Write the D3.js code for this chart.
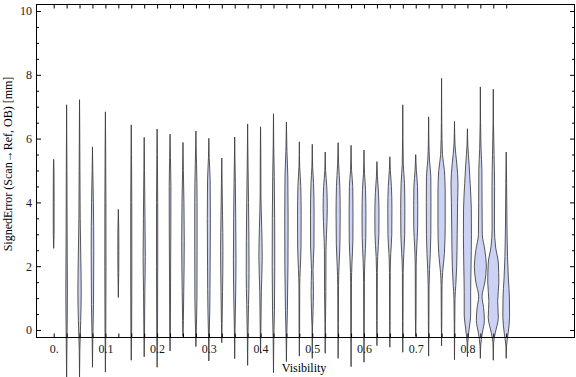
<!DOCTYPE html>
<meta charset="utf-8">
<script src="https://d3js.org/d3.v7.min.js"></script>
<title>SignedError by Visibility</title>

<div id="my_dataviz"></div>

<style>
    body { margin: 0; background: white; }
    #my_dataviz text { font-family: "Liberation Serif", "Times New Roman", serif; }
</style>

<script>
    // violin categories (visibility bins)
    const visibility = [0, 0.025, 0.05, 0.075, 0.1, 0.125, 0.15, 0.175, 0.2, 0.225, 0.25, 0.275,
        0.3, 0.325, 0.35, 0.375, 0.4, 0.425, 0.45, 0.475, 0.5, 0.525, 0.55, 0.575,
        0.6, 0.625, 0.65, 0.675, 0.7, 0.725, 0.75, 0.775, 0.8, 0.825, 0.85, 0.875];

    // top and bottom of each violin [mm]
    const errMax = [5.35, 7.06, 7.22, 5.74, 6.84, 3.78, 6.43, 6.04, 6.30, 6.14, 5.88, 6.24,
        6.01, 5.39, 6.05, 6.46, 6.37, 6.78, 6.52, 5.90, 5.82, 5.58, 5.87, 5.79,
        5.64, 5.28, 5.43, 7.06, 5.50, 6.68, 7.89, 6.54, 6.31, 7.62, 7.55, 5.58];
    const errMin = [2.56, -1.5, -1.5, -1.17, -1.32, 1.02, -0.95, -0.84, -1.17, -0.66, -0.2, -0.52,
        -0.97, -0.4, -0.9, -1.11, -0.73, -1.34, -0.99, -0.82, -0.89, -0.73, -0.89, -1.15,
        -1.01, -0.49, -0.54, -0.7, -0.2, -0.82, -0.5, -0.93, -0.84, -0.89, -0.95, -0.89];

    // density profile of each violin: [error, width as fraction of bin spacing]
    const densityKnots = [
        [[3.0,0.06],[4.0,0.07],[5.0,0.05]],
        [[-0.5,0.05],[0.5,0.1],[1.2,0.12],[3,0.08],[5,0.05],[6.2,0.02]],
        [[-0.6,0.05],[0.3,0.18],[1.2,0.26],[2.2,0.2],[3.5,0.1],[5,0.06],[6.3,0.03]],
        [[-0.3,0.05],[0.8,0.16],[2.5,0.2],[4,0.14],[5,0.05]],
        [[0,0.06],[2,0.09],[4,0.08],[5.8,0.04]],
        [[1.8,0.06],[2.5,0.08],[3.2,0.06]],
        [[0,0.06],[2,0.09],[4,0.08],[5.5,0.04]],
        [[0,0.05],[1.2,0.1],[2.3,0.17],[3.5,0.12],[5,0.05]],
        [[0,0.06],[2,0.09],[4,0.09],[5.5,0.04]],
        [[0,0.05],[1.5,0.08],[3.2,0.12],[4.5,0.13],[5.4,0.06]],
        [[0.3,0.06],[1.2,0.12],[2.8,0.2],[4,0.15],[5.0,0.06]],
        [[0,0.06],[1,0.16],[2.5,0.18],[4,0.18],[5.2,0.1],[5.8,0.03]],
        [[-0.2,0.05],[0.6,0.14],[2,0.2],[3.5,0.24],[4.7,0.2],[5.4,0.06]],
        [[0.2,0.05],[1.2,0.12],[2.5,0.18],[3.6,0.12],[4.6,0.05]],
        [[0,0.05],[1.0,0.14],[2.2,0.2],[3.5,0.16],[4.6,0.1],[5.4,0.04]],
        [[-0.2,0.05],[0.8,0.14],[1.8,0.22],[2.8,0.2],[4,0.14],[5.2,0.06]],
        [[0,0.05],[1.2,0.12],[2.3,0.26],[3.2,0.18],[4.2,0.06],[5.5,0.04]],
        [[-0.3,0.05],[0.6,0.15],[2,0.2],[3.5,0.18],[4.8,0.12],[5.8,0.04]],
        [[-0.2,0.05],[0.6,0.15],[2,0.24],[3.5,0.26],[4.8,0.22],[5.6,0.08]],
        [[0,0.04],[1.4,0.06],[1.9,0.14],[2.6,0.26],[3.6,0.28],[4.5,0.22],[5.1,0.06]],
        [[0.1,0.04],[0.6,0.12],[1.2,0.18],[1.9,0.12],[2.6,0.26],[3.6,0.28],[4.6,0.2],[5.1,0.06]],
        [[0.2,0.04],[1.2,0.1],[2.5,0.12],[3.0,0.2],[3.8,0.32],[4.5,0.24],[5.0,0.06]],
        [[0.2,0.04],[1.4,0.06],[2.0,0.14],[2.7,0.28],[3.6,0.32],[4.5,0.26],[5.2,0.08]],
        [[0,0.04],[1.5,0.06],[2.1,0.14],[2.8,0.28],[3.6,0.3],[4.5,0.26],[5.0,0.08]],
        [[0,0.04],[1.5,0.06],[2.2,0.14],[2.9,0.28],[3.6,0.3],[4.4,0.24],[4.9,0.08]],
        [[0.3,0.04],[1.8,0.06],[2.3,0.12],[3.0,0.3],[3.6,0.32],[4.3,0.24],[4.8,0.08]],
        [[0.3,0.04],[1.8,0.06],[2.4,0.14],[3.0,0.3],[3.8,0.32],[4.5,0.24],[5.0,0.08]],
        [[0.3,0.04],[1.8,0.06],[2.4,0.16],[3.0,0.3],[3.8,0.32],[4.6,0.26],[5.2,0.08],[6.0,0.03]],
        [[0.4,0.05],[2.0,0.07],[2.6,0.16],[3.2,0.3],[3.9,0.32],[4.5,0.28],[5.0,0.1]],
        [[0.3,0.04],[1.4,0.07],[1.9,0.14],[2.4,0.26],[3.0,0.34],[4.0,0.36],[4.8,0.34],[5.3,0.14],[5.9,0.04]],
        [[0.3,0.04],[1.4,0.07],[1.8,0.16],[2.4,0.44],[3.3,0.56],[4.3,0.56],[5.0,0.44],[5.5,0.14],[6.5,0.03]],
        [[0.2,0.04],[1.0,0.08],[1.4,0.2],[2.0,0.34],[3.0,0.42],[4.0,0.48],[4.6,0.54],[5.2,0.36],[5.8,0.08]],
        [[-0.4,0.05],[0.0,0.25],[0.5,0.5],[1.2,0.5],[2.0,0.56],[3.0,0.62],[3.8,0.6],[4.6,0.42],[5.2,0.26],[5.8,0.06]],
        [[-0.5,0.05],[-0.1,0.3],[0.3,0.62],[0.7,0.5],[1.05,0.26],[1.5,0.7],[2.0,0.93],[2.5,0.7],[3.0,0.3],[4.0,0.26],[5.0,0.24],[5.7,0.1],[6.5,0.03]],
        [[-0.4,0.05],[-0.1,0.3],[0.4,0.78],[0.9,0.68],[1.5,0.86],[2.1,0.78],[2.6,0.36],[3.2,0.18],[4.5,0.2],[5.5,0.12],[6.5,0.03]],
        [[-0.5,0.05],[-0.1,0.3],[0.4,0.52],[1.0,0.5],[1.6,0.34],[2.3,0.2],[3.2,0.12],[4.6,0.06]]
    ];

    // tick labels
    const xLabelValues = [0, 0.1, 0.2, 0.3, 0.4, 0.5, 0.6, 0.7, 0.8];
    const xLabelText = ["0.", "0.1", "0.2", "0.3", "0.4", "0.5", "0.6", "0.7", "0.8"];
    const yLabelValues = [0, 2, 4, 6, 8, 10];

    const width = 576, height = 377;
    const frame = {left: 36, right: 575, top: 4, bottom: 337};

    const svg = d3.select("#my_dataviz")
        .append("svg")
        .attr("width", width)
        .attr("height", height);

    const x = d3.scaleLinear()
        .domain([-0.0342, 1.008])
        .range([frame.left, frame.right]);

    const y = d3.scaleLinear()
        .domain([-0.22, 10.22])
        .range([frame.bottom, frame.top]);

    const step = x(visibility[1]) - x(visibility[0]);

    // violins
    const violins = visibility.map((v, i) => {
        const knots = [[errMin[i], 0]].concat(densityKnots[i], [[errMax[i], 0]]);
        return {v: v, knots: knots.slice().reverse()};
    });

    const area = d3.area()
        .curve(d3.curveMonotoneY)
        .y(d => y(d[0]));

    svg.append("g")
        .selectAll("path")
        .data(violins)
        .join("path")
        .attr("d", d => area
            .x0(k => x(d.v) - k[1] * step / 2)
            .x1(k => x(d.v) + k[1] * step / 2)(d.knots))
        .attr("fill", "#cbd2f4")
        .attr("stroke", "#3c3c3c")
        .attr("stroke-opacity", 0.85)
        .attr("stroke-width", 1);

    // frame
    svg.append("rect")
        .attr("x", frame.left + 0.5)
        .attr("y", frame.top + 0.5)
        .attr("width", frame.right - frame.left - 1)
        .attr("height", frame.bottom - frame.top)
        .attr("fill", "none")
        .attr("stroke", "black")
        .attr("stroke-width", 1);

    const labelFor = v => {
        const j = xLabelValues.indexOf(v);
        return j >= 0 ? xLabelText[j] : "";
    };

    // bottom axis
    const xAxis = svg.append("g")
        .attr("transform", `translate(0, ${frame.bottom + 0.5})`)
        .call(d3.axisBottom(x).tickValues(visibility).tickSize(-4).tickPadding(7).tickFormat(labelFor));

    // top axis
    const xTop = svg.append("g")
        .attr("transform", `translate(0, ${frame.top + 0.5})`)
        .call(d3.axisTop(x).tickValues(visibility).tickSize(-4).tickFormat(""));

    // left axis: minor + major
    const yMinor = y.ticks(20).filter(t => yLabelValues.indexOf(t) < 0);
    svg.append("g")
        .attr("transform", `translate(${frame.left + 0.5}, 0)`)
        .call(d3.axisLeft(y).tickValues(yMinor).tickSize(-2.5).tickFormat(""));
    const yAxis = svg.append("g")
        .attr("transform", `translate(${frame.left + 0.5}, 0)`)
        .call(d3.axisLeft(y).tickValues(yLabelValues).tickSize(-4.5).tickPadding(4.5).tickFormat(d3.format("d")));

    // right axis
    svg.append("g")
        .attr("transform", `translate(${frame.right - 0.5}, 0)`)
        .call(d3.axisRight(y).tickValues(yMinor).tickSize(-2.5).tickFormat(""));
    svg.append("g")
        .attr("transform", `translate(${frame.right - 0.5}, 0)`)
        .call(d3.axisRight(y).tickValues(yLabelValues).tickSize(-4.5).tickFormat(""));

    svg.selectAll(".domain").remove();
    svg.selectAll(".tick line").attr("stroke", "black");
    svg.selectAll(".tick text")
        .attr("fill", "#1a1a1a")
        .style("font-size", "12px")
        .style("font-family", "'Liberation Serif', 'Times New Roman', serif");

    // axis titles
    svg.append("text")
        .attr("x", 304)
        .attr("y", 372)
        .attr("text-anchor", "middle")
        .style("font-size", "12px")
        .text("Visibility");

    svg.append("text")
        .attr("transform", "translate(12, 164) rotate(-90)")
        .attr("text-anchor", "middle")
        .style("font-size", "12px")
        .text("SignedError (Scan\u2192Ref, OB) [mm]");
</script>
